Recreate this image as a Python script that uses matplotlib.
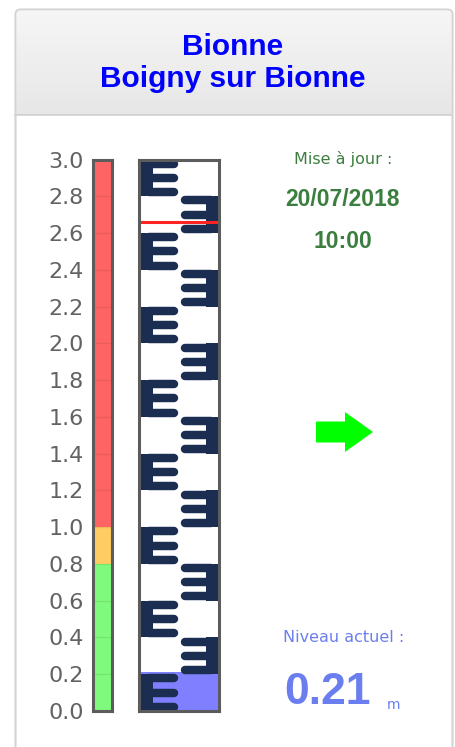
import numpy as np
import matplotlib
matplotlib.use("Agg")
import matplotlib.pyplot as plt
from matplotlib.patches import FancyBboxPatch, Rectangle, FancyArrow

# --- data ---
station = "Bionne"
town = "Boigny sur Bionne"
update_date = "20/07/2018"
update_time = "10:00"
level_now = 0.21          # m
level_mark = 2.66         # red mark on the staff
scale_max = 3.0
tick_values = np.round(np.arange(0, 3.01, 0.2), 1)
# alert bands: (bottom, top, colour)
band_bottom = [0.0, 0.8, 1.0]
band_top = [0.8, 1.0, 3.0]
band_color = ["#80fa7c", "#ffcb63", "#ff6464"]

W, H = 456, 747
fig = plt.figure(figsize=(W / 100, H / 100), dpi=100)
fig.patch.set_facecolor("white")


def px_axes(x0, y0, x1, y1):
    return fig.add_axes([x0 / W, 1 - y1 / H, (x1 - x0) / W, (y1 - y0) / H])


# background / card in pixel coordinates
bg = fig.add_axes([0, 0, 1, 1])
bg.set_xlim(0, W)
bg.set_ylim(H, 0)
bg.axis("off")

card = FancyBboxPatch((15.5, 9.5), 437, 780, boxstyle="round,pad=0,rounding_size=5",
                      fc="white", ec="#d4d4d4", lw=1.2)
bg.add_patch(card)
grad = np.linspace(0.965, 0.905, 64).reshape(-1, 1)
grad = np.dstack([grad, grad, grad])
im = bg.imshow(grad, extent=[15.5, 452.5, 115, 9.5], aspect="auto", zorder=1)
clip = FancyBboxPatch((15.5, 9.5), 437, 200, boxstyle="round,pad=0,rounding_size=5",
                      fc="none", ec="none", transform=bg.transData)
im.set_clip_path(clip)
bg.plot([15.5, 452.5], [115, 115], color="#d0d0d0", lw=1.2, zorder=2)
bg.add_patch(FancyBboxPatch((15.5, 9.5), 437, 780, boxstyle="round,pad=0,rounding_size=5",
                            fc="none", ec="#d4d4d4", lw=1.2, zorder=3))

bg.text(233, 47, station, ha="center", va="center", fontsize=21.5,
        fontweight="bold", family="Liberation Sans", color="#0000ff")
bg.text(233, 79, town, ha="center", va="center", fontsize=21.5,
        fontweight="bold", family="Liberation Sans", color="#0000ff")

green = "#3b7e3f"
bg.text(343, 159, "Mise à jour :", ha="center", va="center", fontsize=11.5,
        family="DejaVu Sans", color=green)
bg.text(343, 199, update_date, ha="center", va="center", fontsize=16.5,
        fontweight="bold", family="Liberation Sans", color=green)
bg.text(343, 242, update_time, ha="center", va="center", fontsize=16.5,
        fontweight="bold", family="Liberation Sans", color=green)

bg.add_patch(FancyArrow(316, 432, 57, 0, width=21, head_width=40, head_length=28,
                        length_includes_head=True, color="#00ff00", lw=0))

blue = "#6b7ef0"
bg.text(344, 637, "Niveau actuel :", ha="center", va="center", fontsize=11.5,
        family="DejaVu Sans", color=blue)
bg.text(328, 692, f"{level_now:.2f}", ha="center", va="center", fontsize=32,
        fontweight="bold", family="Liberation Sans", color=blue)
bg.text(394, 705, "m", ha="center", va="center", fontsize=10,
        family="DejaVu Sans", color=blue)

border = "#5c5c5c"

# colour scale
ax_c = px_axes(93.5, 159.5, 112.5, 711)
for b0, b1, c in zip(band_bottom, band_top, band_color):
    ax_c.axhspan(b0, b1, color=c, lw=0)
for v in tick_values[1:-1]:
    ax_c.axhline(v, color="black", alpha=0.08, lw=1)
ax_c.set_xlim(0, 1)
ax_c.set_ylim(0, scale_max)
ax_c.set_xticks([])
ax_c.set_yticks(tick_values)
ax_c.set_yticklabels([f"{v:.1f}" for v in tick_values])
ax_c.tick_params(axis="y", length=0, pad=7, labelsize=16, labelcolor="#626262")
for lab in ax_c.get_yticklabels():
    lab.set_family("DejaVu Sans")
for s in ax_c.spines.values():
    s.set_color(border)
    s.set_linewidth(2.2)

# staff gauge
ax_r = px_axes(139.5, 159.5, 219.5, 711)
ax_r.set_facecolor("white")
ax_r.set_xlim(0, 1)
ax_r.set_ylim(0, scale_max)
ax_r.set_xticks([])
ax_r.set_yticks([])
for s in ax_r.spines.values():
    s.set_color(border)
    s.set_linewidth(2.2)
    s.set_zorder(5)

ax_r.axhspan(0, level_now, color="#7f7fff", lw=0, zorder=1)

navy = "#1b2d50"
px_per_m = (711 - 159.5) / scale_max
stripe = 0.046
lw_pt = stripe * px_per_m * 0.72
cap = stripe / 2 * px_per_m / 80
for i, b in enumerate(np.arange(0, scale_max, 0.2)):
    left = i % 2 == 0
    prong_y = [b + stripe / 2, b + 0.10, b + 0.2 - stripe / 2]
    if left:
        ax_r.add_patch(Rectangle((0.02, b), 0.15, 0.2, color=navy, lw=0, zorder=2))
        for y in prong_y:
            ax_r.plot([0.12, 0.48 - cap], [y, y], color=navy, lw=lw_pt,
                      solid_capstyle="round", zorder=2)
    else:
        ax_r.add_patch(Rectangle((0.83, b), 0.17, 0.2, color=navy, lw=0, zorder=2))
        for y in prong_y:
            ax_r.plot([0.51 + cap, 0.9], [y, y], color=navy, lw=lw_pt,
                      solid_capstyle="round", zorder=2)

ax_r.axhline(level_mark, color="#ff2424", lw=2.2, zorder=3)

fig.savefig("out.png", dpi=100)
